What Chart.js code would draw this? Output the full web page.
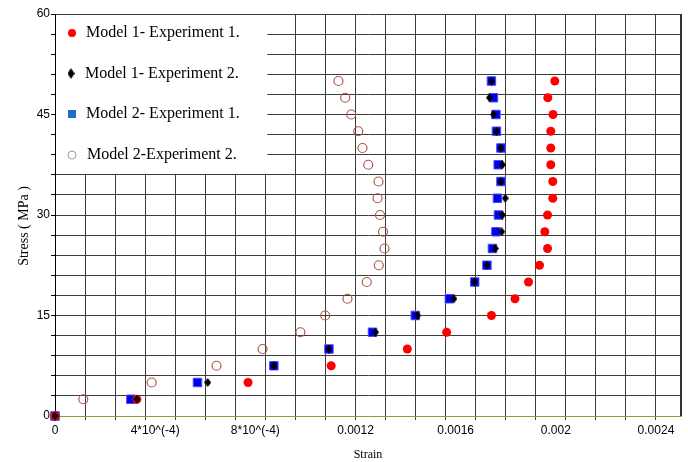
<!DOCTYPE html>
<html>
<head>
<meta charset="utf-8">
<script src="https://cdn.jsdelivr.net/npm/chart.js@4.4.0/dist/chart.umd.min.js"></script>
<style>
html,body{margin:0;padding:0;background:#fff;}
</style>
</head>
<body>
<canvas id="chart-stress" width="688" height="462"></canvas>
<script>
// stress levels (MPa), same for every series
const stress = [0,2.5,5,7.5,10,12.5,15,17.5,20,22.5,25,27.5,30,32.5,35,37.5,40,42.5,45,47.5,50];

// strain values, in the order of stress[]
const m1e1 = [0,0.000327,0.000771,0.001103,0.001407,0.001564,0.001743,0.001837,0.001891,0.001935,0.001967,
              0.001956,0.001967,0.001988,0.001988,0.001980,0.001980,0.001980,0.001989,0.001968,0.001996];
const m1e2 = [0,0.000327,0.000610,0.000874,0.001094,0.001280,0.001448,0.001593,0.001676,0.001725,0.001758,
              0.001784,0.001787,0.001798,0.001781,0.001787,0.001781,0.001763,0.001751,0.001735,0.001743];
const m2e1 = [0,0.000303,0.000569,0.000874,0.001094,0.001268,0.001439,0.001575,0.001676,0.001725,0.001747,
              0.001761,0.001771,0.001767,0.001781,0.001770,0.001781,0.001763,0.001761,0.001751,0.001743];
const m2e2 = [0,0.000113,0.000386,0.000645,0.000829,0.000980,0.001079,0.001168,0.001245,0.001293,0.001316,
              0.001310,0.001298,0.001288,0.001292,0.001251,0.001228,0.001211,0.001183,0.001159,0.001132];

const seriesNames = ['Model 1- Experiment 1.','Model 1- Experiment 2.','Model 2- Experiment 1.','Model 2-Experiment 2.'];

// axis ticks
const xLabelValues = [0,0.0004,0.0008,0.0012,0.0016,0.002,0.0024];
const xLabels = ['0','4*10^(-4)','8*10^(-4)','0.0012','0.0016','0.002','0.0024'];
const xGridStep = 0.00012;
const yLabelValues = [0,15,30,45,60];
const yGridStep = 3;

const gridColor = '#3c3c3c';
const sansFont = {family:'"Liberation Sans", Arial, sans-serif', size:12};

function toPoints(xs){ return xs.map((v,i)=>({x:v, y:stress[i]})); }

function makeDiamond(w,h,color){
    const c=document.createElement('canvas'); c.width=w; c.height=h;
    const g=c.getContext('2d');
    g.fillStyle=color; g.beginPath();
    g.moveTo(w/2,0); g.lineTo(w,h/2); g.lineTo(w/2,h); g.lineTo(0,h/2); g.closePath(); g.fill();
    return c;
}

function onXGrid(v){ let k=v/xGridStep; return Math.abs(k-Math.round(k))<1e-6; }

let xTicks=[];
for(let k=0;k<=20;k++) xTicks.push(+(k*xGridStep).toFixed(6));
xLabelValues.forEach(v=>{ if(!xTicks.some(t=>Math.abs(t-v)<1e-9)) xTicks.push(v); });
xTicks.sort((a,b)=>a-b);

let yTicks=[];
for(let v=0;v<=60;v+=yGridStep) yTicks.push(v);

// white legend box in the top left corner of the plot, plus the frame and titles
const boxPlugin = {
    id:'legendBox',
    beforeDatasetsDraw(chart){
        const ctx=chart.ctx, a=chart.chartArea, xs=chart.scales.x, ys=chart.scales.y;
        ctx.save();
        ctx.strokeStyle='#333'; ctx.lineWidth=2;
        ctx.beginPath(); ctx.moveTo(a.right,a.top); ctx.lineTo(a.right,a.bottom); ctx.stroke();

        let bx1=xs.getPixelForValue(0.00084)+2, by1=ys.getPixelForValue(36)-1;
        ctx.fillStyle='#fff';
        ctx.fillRect(a.left+1,a.top+1,bx1-a.left-1,by1-a.top-1);

        const rows=[a.top+19,a.top+59.5,a.top+100,a.top+141];
        const mx=a.left+17;
        // markers
        ctx.fillStyle='#ff0000';
        ctx.beginPath(); ctx.arc(mx,rows[0],4,0,Math.PI*2); ctx.fill();
        ctx.drawImage(makeDiamond(7,11,'#000'),mx-4.5,rows[1]-5.5);
        ctx.fillStyle='#1f6fc6';
        ctx.fillRect(mx-4,rows[2]-4,8,8);
        ctx.strokeStyle='#9a9a9a'; ctx.lineWidth=1;
        ctx.beginPath(); ctx.arc(mx,rows[3],4,0,Math.PI*2); ctx.stroke();
        // texts
        ctx.fillStyle='#000';
        ctx.font='16px "Liberation Serif", "Times New Roman", serif';
        ctx.textBaseline='middle'; ctx.textAlign='left';
        const tx=[a.left+31,a.left+30,a.left+31,a.left+32];
        seriesNames.forEach((s,i)=>ctx.fillText(s,tx[i],rows[i]));
        ctx.restore();
    },
    afterDraw(chart){
        const ctx=chart.ctx, a=chart.chartArea;
        ctx.save();
        ctx.fillStyle='#000';
        ctx.font='12px "Liberation Serif", "Times New Roman", serif';
        ctx.textAlign='center'; ctx.textBaseline='middle';
        ctx.fillText('Strain',(a.left+a.right)/2,455);
        ctx.translate(24,226); ctx.rotate(-Math.PI/2);
        ctx.font='14px "Liberation Serif", "Times New Roman", serif';
        ctx.fillText('Stress ( MPa )',0,0);
        ctx.restore();
    }
};

new Chart(document.getElementById('chart-stress'), {
    type:'scatter',
    data:{
        datasets:[
            {label:seriesNames[0], data:toPoints(m1e1), pointStyle:'circle', pointRadius:4.5,
             backgroundColor:'#ff0000', borderColor:'#ff0000', borderWidth:0, order:1, clip:false},
            {label:seriesNames[1], data:toPoints(m1e2), pointStyle:makeDiamond(7,9,'#000'), pointRadius:4,
             backgroundColor:'#000', borderColor:'#000', order:0, clip:false},
            {label:seriesNames[2], data:toPoints(m2e1), pointStyle:'rect', pointRadius:6,
             backgroundColor:'#0000ee', borderColor:'#4a4aff', borderWidth:1, order:2, clip:false},
            {label:seriesNames[3], data:toPoints(m2e2), pointStyle:'circle', pointRadius:4.5,
             backgroundColor:'rgba(0,0,0,0)', borderColor:'#b5524c', borderWidth:1.2, order:3, clip:false}
        ]
    },
    options:{
        responsive:false,
        animation:false,
        layout:{padding:{top:14,right:7,left:0,bottom:0}},
        plugins:{legend:{display:false}, tooltip:{enabled:false}},
        scales:{
            x:{
                type:'linear', min:0, max:0.0025,
                afterFit(s){ s.height=46; },
                afterBuildTicks(s){ s.ticks=xTicks.map(v=>({value:v})); },
                ticks:{
                    autoSkip:false, maxRotation:0, minRotation:0, padding:3, color:'#000', font:sansFont,
                    callback(v){ let i=xLabelValues.findIndex(t=>Math.abs(t-v)<1e-9); return i<0?'':xLabels[i]; }
                },
                grid:{
                    color:c=>onXGrid(c.tick.value)?gridColor:'rgba(0,0,0,0)',
                    tickColor:c=>onXGrid(c.tick.value)?gridColor:'rgba(0,0,0,0)',
                    tickLength:4
                },
                border:{color:'#9a9640', width:1}
            },
            y:{
                type:'linear', min:0, max:60,
                afterFit(s){ s.width=55; },
                afterBuildTicks(s){ s.ticks=yTicks.map(v=>({value:v})); },
                ticks:{
                    autoSkip:false, padding:1, color:'#000', font:sansFont,
                    callback(v){ return yLabelValues.includes(v)?String(v):''; }
                },
                grid:{
                    color:c=>c.tick.value===0?'rgba(0,0,0,0)':gridColor,
                    tickColor:'#000',
                    tickLength:4
                },
                border:{color:'#000', width:1}
            }
        }
    },
    plugins:[boxPlugin]
});
</script>
</body>
</html>
